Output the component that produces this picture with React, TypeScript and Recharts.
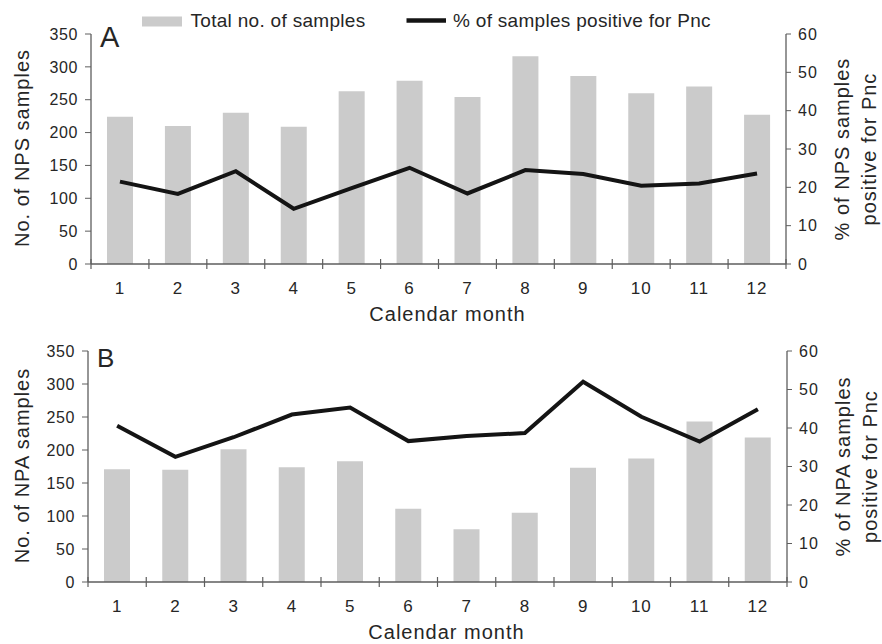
import React from 'react';
import { ComposedChart, Bar, Line, XAxis, YAxis, Label } from 'recharts';

// Calendar months (x categories)
const months = ['1', '2', '3', '4', '5', '6', '7', '8', '9', '10', '11', '12'];

// Panel A - nasopharyngeal swabs
const npsTotal = [224, 210, 230, 209, 263, 279, 254, 316, 286, 260, 270, 227];
const npsPositive = [21.5, 18.3, 24.2, 14.4, 19.8, 25.1, 18.4, 24.5, 23.5, 20.4, 21.0, 23.6];

// Panel B - nasopharyngeal aspirates
const npaTotal = [171, 170, 201, 174, 183, 111, 80, 105, 173, 187, 243, 219];
const npaPositive = [40.6, 32.5, 37.6, 43.5, 45.3, 36.6, 37.9, 38.7, 52.0, 42.9, 36.5, 44.9];

const countTicks = [0, 50, 100, 150, 200, 250, 300, 350];
const pctTicks = [0, 10, 20, 30, 40, 50, 60];

const FONT = '"Liberation Sans", Arial, Helvetica, sans-serif';
const TEXT = '#262626';
const AXIS = '#5e5e5e';
const BAR = '#cbcbcb';
const LINE = '#141414';

const tableA = months.map((m, i) => ({ month: m, total: npsTotal[i], pct: npsPositive[i] }));
const tableB = months.map((m, i) => ({ month: m, total: npaTotal[i], pct: npaPositive[i] }));

const MonthTick = (props: any) => {
    const { x, y, payload, index, visibleTicksCount } = props;
    const half = payload && payload.offset ? payload.offset : 29;
    return (
        <g>
            <line x1={x - half} x2={x - half} y1={y - 5} y2={y + 5} stroke={AXIS} strokeWidth={1.2} />
            {index === visibleTicksCount - 1 && (
                <line x1={x + half} x2={x + half} y1={y - 5} y2={y + 5} stroke={AXIS} strokeWidth={1.2} />
            )}
            <text x={x} y={y + 18} dy="0.71em" textAnchor="middle" fill={TEXT}
                style={{ fontFamily: FONT, fontSize: 17, letterSpacing: 1 }}>
                {payload.value}
            </text>
        </g>
    );
};

const LeftTick = (props: any) => (
    <text x={props.x} y={props.y} dy="0.36em" textAnchor="end" fill={TEXT}
        style={{ fontFamily: FONT, fontSize: 16, letterSpacing: 0.6 }}>
        {props.payload.value}
    </text>
);

const RightTick = (props: any) => (
    <text x={props.x} y={props.y} dy="0.36em" textAnchor="start" fill={TEXT}
        style={{ fontFamily: FONT, fontSize: 16, letterSpacing: 1 }}>
        {props.payload.value}
    </text>
);

const titleStyle = { fontFamily: FONT, fontSize: 20, letterSpacing: 1 };

const leftTitle = (text: string, letter: string, letterSize: number, letterDy: number) => (props: any) => {
    const vb = props.viewBox;
    const cx = vb.x + 28.5;
    const cy = vb.y + vb.height / 2 - 1;
    return (
        <g>
            <text x={cx} y={cy} transform={`rotate(-90, ${cx}, ${cy})`} textAnchor="middle" fill={TEXT} style={titleStyle}>
                {text}
            </text>
            <text x={vb.x + vb.width + 9} y={vb.y + letterDy} fill={TEXT}
                style={{ fontFamily: FONT, fontSize: letterSize }}>
                {letter}
            </text>
        </g>
    );
};

const rightTitle = (line1: string, line2: string) => (props: any) => {
    const vb = props.viewBox;
    const cy = vb.y + vb.height / 2;
    const x1 = vb.x + 63;
    const x2 = vb.x + 90;
    return (
        <g>
            <text x={x1} y={cy} transform={`rotate(-90, ${x1}, ${cy})`} textAnchor="middle" fill={TEXT} style={titleStyle}>
                {line1}
            </text>
            <text x={x2} y={cy} transform={`rotate(-90, ${x2}, ${cy})`} textAnchor="middle" fill={TEXT} style={titleStyle}>
                {line2}
            </text>
        </g>
    );
};

const monthTitle = (props: any) => {
    const vb = props.viewBox;
    return (
        <text x={vb.x + vb.width / 2 + 9} y={vb.y + 57} textAnchor="middle" fill={TEXT} style={titleStyle}>
            Calendar month
        </text>
    );
};

type PanelProps = {
    data: any[];
    top: number;
    height: number;
    marginTop: number;
    xAxisHeight: number;
    leftWidth: number;
    rightWidth: number;
    sample: string;
    letter: string;
    letterSize: number;
    letterDy: number;
};

const Panel = ({ data, top, height, marginTop, xAxisHeight, leftWidth, rightWidth, sample, letter, letterSize, letterDy }: PanelProps) => (
    <div style={{ position: 'absolute', left: 0, top }}>
        <ComposedChart width={882} height={height} data={data} margin={{ top: marginTop, right: 0, bottom: 0, left: 0 }}>
            <XAxis
                dataKey="month"
                height={xAxisHeight}
                interval={0}
                tickLine={false}
                tickSize={0}
                tickMargin={0}
                axisLine={{ stroke: AXIS, strokeWidth: 1.5 }}
                tick={<MonthTick />}
            >
                <Label content={monthTitle} />
            </XAxis>
            <YAxis
                yAxisId="left"
                width={leftWidth}
                domain={[0, 350]}
                ticks={countTicks}
                interval={0}
                tickSize={6}
                tickMargin={7}
                tickLine={{ stroke: AXIS }}
                axisLine={{ stroke: AXIS, strokeWidth: 1.3 }}
                tick={<LeftTick />}
            >
                <Label content={leftTitle(`No. of ${sample} samples`, letter, letterSize, letterDy)} />
            </YAxis>
            <YAxis
                yAxisId="right"
                orientation="right"
                width={rightWidth}
                domain={[0, 60]}
                ticks={pctTicks}
                interval={0}
                tickSize={5}
                tickMargin={7}
                tickLine={{ stroke: AXIS }}
                axisLine={{ stroke: AXIS, strokeWidth: 1.3 }}
                tick={<RightTick />}
            >
                <Label content={rightTitle(`% of ${sample} samples`, 'positive for Pnc')} />
            </YAxis>
            <Bar yAxisId="left" dataKey="total" fill={BAR} barSize={26} isAnimationActive={false} />
            <Line
                yAxisId="right"
                type="linear"
                dataKey="pct"
                stroke={LINE}
                strokeWidth={4}
                strokeLinejoin="miter"
                dot={false}
                activeDot={false}
                isAnimationActive={false}
            />
        </ComposedChart>
    </div>
);

const LegendBar = () => (
    <svg width={882} height={34} style={{ position: 'absolute', left: 0, top: 0 }}>
        <rect x={142} y={16.5} width={40} height={10} fill={BAR} />
        <text x={190.5} y={26.7} fill={TEXT} style={{ fontFamily: FONT, fontSize: 19, letterSpacing: 0.3 }}>
            Total no. of samples
        </text>
        <line x1={406.5} x2={446} y1={20.5} y2={20.5} stroke={LINE} strokeWidth={4.5} />
        <text x={453} y={26.7} fill={TEXT} style={{ fontFamily: FONT, fontSize: 19, letterSpacing: 0.3 }}>
            % of samples positive for Pnc
        </text>
    </svg>
);

export default function App() {
    return (
        <div style={{ position: 'absolute', left: 0, top: 0, width: 882, height: 644, background: '#fff', overflow: 'hidden' }}>
            <Panel data={tableA} top={0} height={334} marginTop={34} xAxisHeight={70} leftWidth={91} rightWidth={96}
                sample="NPS" letter="A" letterSize={29} letterDy={13} />
            <Panel data={tableB} top={322} height={322} marginTop={29} xAxisHeight={62} leftWidth={88} rightWidth={95}
                sample="NPA" letter="B" letterSize={26} letterDy={16} />
            <LegendBar />
        </div>
    );
}
